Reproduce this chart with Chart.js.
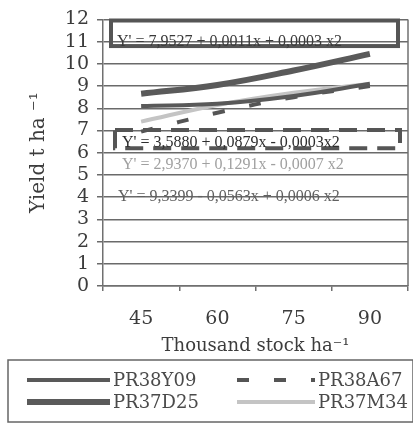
<!DOCTYPE html>
<html lang="en">
<head>
<meta charset="UTF-8">
<title>Yield vs stock</title>
<script src="https://cdn.jsdelivr.net/npm/chart.js@4.4.1/dist/chart.umd.min.js"></script>
<style>
    html, body { margin: 0; padding: 0; background: #fff; }
</style>
</head>
<body>
<canvas id="yieldChart" width="413" height="424"></canvas>
<script>
// data
var stockLabels = ['45', '60', '75', '90'];
var pr38y09 = [8.1, 8.2, 8.55, 9.1];
var pr38a67 = [6.95, 7.8, 8.5, 9.0];
var pr37d25 = [8.65, 9.05, 9.7, 10.45];
var pr37m34 = [7.4, 8.15, 8.7, 9.1];
var yMin = 0, yMax = 12, yStep = 1;
var eqTexts = [
    "Y' = 7,9527 + 0,0011x + 0,0003 x2",
    "Y' = 3,5880 + 0,0879x - 0,0003x2",
    "Y' = 2,9370 + 0,1291x - 0,0007 x2",
    "Y' = 9,3399 - 0,0563x + 0,0006 x2"
];

const serif = "'DejaVu Serif', serif";
const eqFont = "16px 'Liberation Serif', serif";

// frame, equation boxes and texts
const notesPlugin = {
    id: 'notes',
    afterDatasetsDraw(chart) {
        const { ctx, chartArea: a, scales: { y } } = chart;
        ctx.save();
        // right border of plot
        ctx.strokeStyle = '#707070';
        ctx.lineWidth = 1.5;
        ctx.beginPath();
        ctx.moveTo(a.right, a.top);
        ctx.lineTo(a.right, a.bottom);
        ctx.stroke();

        // solid box for PR37D25 equation
        ctx.strokeStyle = '#555';
        ctx.lineWidth = 4;
        let t = y.getPixelForValue(11.95), b = y.getPixelForValue(10.8);
        ctx.strokeRect(a.left + 8, t, a.width - 18, b - t);

        // dashed box for PR38A67 equation
        ctx.setLineDash([18, 10]);
        t = y.getPixelForValue(7.02); b = y.getPixelForValue(6.2);
        ctx.strokeRect(a.left + 12, t, a.width - 20, b - t);
        ctx.setLineDash([]);

        ctx.font = eqFont;
        ctx.textBaseline = 'middle';
        ctx.textAlign = 'left';
        ctx.fillStyle = '#3a3a3a';
        ctx.fillText(eqTexts[0], a.left + 14, y.getPixelForValue(11.0));
        ctx.fillStyle = '#2e2e2e';
        ctx.fillText(eqTexts[1], a.left + 19, y.getPixelForValue(6.45));
        ctx.fillStyle = '#a0a0a0';
        ctx.fillText(eqTexts[2], a.left + 19, y.getPixelForValue(5.45));
        ctx.fillStyle = '#606060';
        ctx.fillText(eqTexts[3], a.left + 15, y.getPixelForValue(4.0));
        ctx.restore();
    }
};

// boxed two-column legend under the axis title
const legendPlugin = {
    id: 'boxLegend',
    afterDraw(chart) {
        const ctx = chart.ctx;
        const top = chart.height - 64;
        ctx.save();
        ctx.strokeStyle = '#666';
        ctx.lineWidth = 1.5;
        ctx.strokeRect(8, top, chart.width - 8, 62);
        ctx.font = '18px ' + serif;
        ctx.textBaseline = 'middle';
        ctx.fillStyle = '#4a4a4a';
        const cols = [{ x: 27, w: 83 }, { x: 237, w: 78 }];
        chart.data.datasets.forEach((ds, i) => {
            const col = cols[i % 2];
            const yy = top + 20 + Math.floor(i / 2) * 22;
            ctx.strokeStyle = ds.borderColor;
            ctx.lineWidth = ds.borderWidth;
            ctx.setLineDash(ds.borderDash || []);
            ctx.beginPath();
            ctx.moveTo(col.x, yy);
            ctx.lineTo(col.x + col.w, yy);
            ctx.stroke();
            ctx.setLineDash([]);
            ctx.fillText(ds.label, col.x + col.w + 3, yy + 1);
        });
        ctx.restore();
    }
};

const ctx = document.getElementById('yieldChart').getContext('2d');
const chart = new Chart(ctx, {
    type: 'line',
    data: {
        labels: stockLabels,
        datasets: [
            { label: 'PR38Y09', data: pr38y09, borderColor: '#595959', borderWidth: 4, tension: 0.4 },
            { label: 'PR38A67', data: pr38a67, borderColor: '#555', borderWidth: 4, borderDash: [12, 25], tension: 0.4 },
            { label: 'PR37D25', data: pr37d25, borderColor: '#5a5a5a', borderWidth: 6, tension: 0.4 },
            { label: 'PR37M34', data: pr37m34, borderColor: '#c4c4c4', borderWidth: 4, tension: 0.4 }
        ]
    },
    options: {
        responsive: false,
        animation: false,
        devicePixelRatio: 1,
        elements: { point: { radius: 0 } },
        layout: { padding: { left: 0, right: 5, top: 13, bottom: 62 } },
        plugins: { legend: { display: false }, tooltip: { enabled: false } },
        scales: {
            x: {
                offset: true,
                grid: { offset: true, drawOnChartArea: false, color: '#707070', lineWidth: 1.5, tickLength: 5 },
                border: { color: '#707070', width: 1.5 },
                ticks: { color: '#3c3c3c', font: { family: serif, size: 19 }, padding: 17 },
                title: { display: true, text: 'Thousand stock ha⁻¹', color: '#3c3c3c', font: { family: serif, size: 18 }, padding: { top: 0, bottom: 5 } },
                afterFit: s => { s.height = 76; }
            },
            y: {
                min: yMin,
                max: yMax,
                ticks: { stepSize: yStep, autoSkip: false, color: '#3c3c3c', font: { family: serif, size: 19 }, padding: 8 },
                grid: { color: '#6a6a6a', lineWidth: 1.5, tickLength: 6 },
                border: { color: '#707070', width: 1.5 },
                title: { display: true, text: 'Yield t ha ⁻¹', color: '#3c3c3c', font: { family: serif, size: 20 }, padding: { top: 27, bottom: 0 } },
                afterFit: s => { s.width = 103; }
            }
        }
    },
    plugins: [notesPlugin, legendPlugin]
});
</script>
</body>
</html>
